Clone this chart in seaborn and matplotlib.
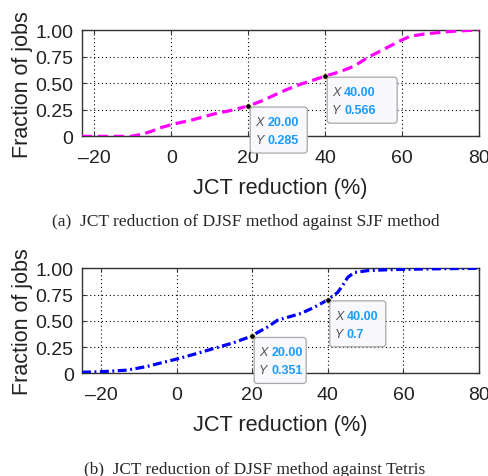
import numpy as np
import pandas as pd
import seaborn as sns
import matplotlib
matplotlib.use("Agg")
import matplotlib.pyplot as plt
from matplotlib import patches
from matplotlib import transforms as mtransforms

# CDF of JCT reduction, DJSF vs SJF
sjf_x = [-23.3, -15, -10.5, -7.6, -5, -2.9, 1, 5, 11, 15, 20, 24, 27.5, 30, 33.6,
         37, 40, 44, 47.5, 51, 55.3, 59.6, 62, 65.7, 70, 74, 78, 80]
sjf_y = [0.0, 0.0, 0.0, 0.02, 0.05, 0.08, 0.12, 0.15, 0.21, 0.24, 0.285, 0.34, 0.40,
         0.44, 0.49, 0.53, 0.566, 0.61, 0.66, 0.74, 0.82, 0.90, 0.94, 0.962, 0.978,
         0.99, 0.997, 1.0]

# CDF of JCT reduction, DJSF vs Tetris
tetris_x = [-25, -20, -13.1, -7.8, -4, 0.1, 5, 9.9, 15, 19.6, 22, 24, 26.7, 30, 32.9,
            36.5, 40, 42.6, 44, 45.3, 47, 50.6, 55, 59.4, 70, 80]
tetris_y = [0.01, 0.015, 0.03, 0.065, 0.10, 0.136, 0.185, 0.237, 0.29, 0.351, 0.40,
            0.44, 0.505, 0.54, 0.57, 0.63, 0.70, 0.77, 0.84, 0.915, 0.96, 0.978,
            0.985, 0.99, 0.996, 1.0]

# data tips: (x, y, x text, y text)
sjf_tips = [(20, 0.285, "20.00", "0.285"), (40, 0.566, "40.00", "0.566")]
tetris_tips = [(20, 0.351, "20.00", "0.351"), (40, 0.7, "40.00", "0.7")]

x_ticks = [-20, 0, 20, 40, 60, 80]
x_ticklabels = ["\u201320", "0", "20", "40", "60", "80"]
y_ticks = [0, 0.25, 0.5, 0.75, 1.0]
y_ticklabels = ["0", "0.25", "0.50", "0.75", "1.00"]

captions = ["(a)  JCT reduction of DJSF method against SJF method",
            "(b)  JCT reduction of DJSF method against Tetris"]

sns.set_theme(style="ticks")
plt.rcParams["font.family"] = ["Liberation Sans", "DejaVu Sans"]

fig = plt.figure(figsize=(4.89, 4.77), dpi=100)
ax_a = fig.add_axes([0.167, 0.712, 0.8126, 0.223])
ax_b = fig.add_axes([0.1677, 0.2153, 0.8119, 0.2201])


def add_tip(ax, x, y, xs, ys, box_w):
    # pixel offsets relative to the data point
    trans = mtransforms.Affine2D() + mtransforms.ScaledTranslation(x, y, ax.transData)
    box = patches.FancyBboxPatch((2, -47), box_w, 46,
                                 boxstyle="round,pad=0,rounding_size=3",
                                 facecolor="#f9f9fd", edgecolor="#a8a8a8",
                                 linewidth=0.9, transform=trans, clip_on=False,
                                 zorder=5)
    fig.add_artist(box)
    for dy, lab, val in [(-16, "X", xs), (-34, "Y", ys)]:
        fig.text(7, dy, lab, transform=trans, fontsize=9, style="italic",
                 color="#505050", va="center", ha="left", zorder=6)
        fig.text(19, dy, val, transform=trans, fontsize=9, fontweight="bold",
                 color="#1a9bff", va="center", ha="left", zorder=6)


def style_axes(ax, xlim):
    ax.set_xlim(*xlim)
    ax.set_ylim(0, 1)
    ax.set_xticks(x_ticks)
    ax.set_xticklabels(x_ticklabels)
    ax.set_yticks(y_ticks)
    ax.set_yticklabels(y_ticklabels)
    ax.grid(True, color="black", linestyle=(0, (1, 2.5)), linewidth=0.8)
    for s in ax.spines.values():
        s.set_color("#333333")
        s.set_linewidth(1.0)
    ax.tick_params(axis="both", direction="in", length=3, width=0.8,
                   labelsize=14, colors="#333333", labelcolor="#222222",
                   top=True, right=True)
    ax.tick_params(axis="x", pad=9)
    ax.tick_params(axis="y", pad=6)
    ax.set_xlabel("JCT reduction (%)", fontsize=15.7, color="#222222", labelpad=8)
    ax.set_ylabel("Fraction of jobs", fontsize=15.5, color="#222222", labelpad=2)


df_a = pd.DataFrame({"x": sjf_x, "y": sjf_y})
sns.lineplot(data=df_a, x="x", y="y", ax=ax_a, color="#ff00ff", linewidth=2.3,
             linestyle=(0, (3.3, 1.7)), zorder=3)
style_axes(ax_a, (-23.3, 80))

df_b = pd.DataFrame({"x": tetris_x, "y": tetris_y})
sns.lineplot(data=df_b, x="x", y="y", ax=ax_b, color="#0000ff", linewidth=2.3,
             linestyle=(0, (2.8, 1.1, 0.6, 1.1)), zorder=3)
style_axes(ax_b, (-25, 80))

for ax, tips, widths in [(ax_a, sjf_tips, [57, 70]), (ax_b, tetris_tips, [52, 56])]:
    for (x, y, xs, ys), w in zip(tips, widths):
        ax.plot([x], [y], marker="o", markersize=4, color="black",
                markeredgecolor="#f3f0b0", markeredgewidth=0.6, zorder=4,
                clip_on=False)
        add_tip(ax, x, y, xs, ys, w)

fig.text(0.503, 1 - 222 / 477, captions[0], ha="center", va="center",
         fontsize=12.6, family=["Liberation Serif", "DejaVu Serif"])
fig.text(0.52, 1 - 470 / 477, captions[1], ha="center", va="center",
         fontsize=12.4, family=["Liberation Serif", "DejaVu Serif"])

fig.savefig("out.png", dpi=100)
